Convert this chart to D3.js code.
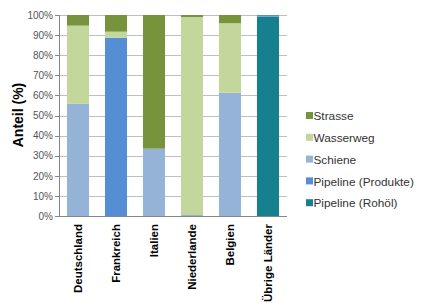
<!DOCTYPE html>
<meta charset="utf-8">
<style>
body { margin: 0; background: #fff; }
text { font-family: "Liberation Sans", Arial, sans-serif; }
.grid line { stroke: #bfbfbf; stroke-width: 1px; shape-rendering: crispEdges; }
.axis path, .axis line { stroke: #868686; shape-rendering: crispEdges; }
.axis text { fill: #555; font-size: 10px; }
.xaxis text { fill: #000; font-size: 11.5px; font-weight: bold; }
</style>
<body>
<script src="https://d3js.org/d3.v7.min.js"></script>
<script>

// data
var laender = ["Deutschland", "Frankreich", "Italien", "Niederlande", "Belgien", "Übrige Länder"];
var serien = ["Pipeline (Rohöl)", "Pipeline (Produkte)", "Schiene", "Wasserweg", "Strasse"];
var rohoel    = [0, 0, 0, 0, 0, 99.2];
var produkte  = [0, 88.7, 0, 0, 0, 0.8];
var schiene   = [55.8, 0, 33.5, 0.5, 61.3, 0];
var wasserweg = [38.9, 3.0, 0, 98.5, 34.6, 0];
var strasse   = [5.3, 8.3, 66.5, 1.0, 4.1, 0];
var farben = ["#16808f", "#558ed5", "#95b3d7", "#c3d69b", "#77933c"];
var yTicks = [0, 10, 20, 30, 40, 50, 60, 70, 80, 90, 100];

var margin = {top: 15, left: 59},
    width = 228, height = 201;

var svg = d3.select("body").append("svg")
    .attr("width", 421)
    .attr("height", 308);

var g = svg.append("g")
    .attr("transform", "translate(" + margin.left + "," + margin.top + ")");

var x = d3.scaleBand().domain(laender).range([0, width]).paddingInner(0.42).paddingOuter(0.21);
var y = d3.scaleLinear().domain([0, 100]).range([height, 0]);
var color = d3.scaleOrdinal().domain(serien).range(farben);

// build table for stack
var werte = [rohoel, produkte, schiene, wasserweg, strasse];
var tabelle = laender.map(function(l, i) {
  var row = {land: l};
  serien.forEach(function(s, j) { row[s] = werte[j][i]; });
  return row;
});
var stack = d3.stack().keys(serien)(tabelle);

// gridlines
g.append("g")
    .attr("class", "grid")
  .selectAll("line")
  .data(yTicks.slice(1))
  .enter().append("line")
    .attr("x1", 0).attr("x2", width)
    .attr("y1", function(d) { return Math.round(y(d)) + 0.5; })
    .attr("y2", function(d) { return Math.round(y(d)) + 0.5; });

// bars
g.selectAll(".serie")
  .data(stack)
  .enter().append("g")
    .attr("class", "serie")
    .attr("fill", function(d) { return color(d.key); })
  .selectAll("rect")
  .data(function(d) { return d; })
  .enter().append("rect")
    .attr("x", function(d) { return x(d.data.land); })
    .attr("width", x.bandwidth())
    .attr("y", function(d) { return y(d[1]); })
    .attr("height", function(d) { return y(d[0]) - y(d[1]); });

// y axis
g.append("g")
    .attr("class", "axis")
    .call(d3.axisLeft(y).tickValues(yTicks).tickFormat(function(d) { return d + "%"; }).tickSize(4).tickPadding(2))
    .call(function(s) { s.select(".domain").attr("d", "M0.5,0V" + height); });

// x axis
var xa = g.append("g")
    .attr("class", "axis xaxis")
    .attr("transform", "translate(0," + height + ")")
    .call(d3.axisBottom(x).tickSize(0).tickPadding(0));
xa.select(".domain").attr("d", "M0," + 0.5 + "H" + width);
xa.selectAll("text")
    .attr("transform", "rotate(-90)")
    .attr("text-anchor", "end")
    .attr("x", -8)
    .attr("y", 0)
    .attr("dy", "0.35em");

// y label
svg.append("text")
    .attr("transform", "translate(23," + 115 + ") rotate(-90)")
    .attr("text-anchor", "middle")
    .style("font-size", "14px")
    .style("font-weight", "bold")
    .text("Anteil (%)");

// legend
var legend = svg.append("g").selectAll("g")
  .data(serien.slice().reverse())
  .enter().append("g")
    .attr("transform", function(d, i) { return "translate(306," + (116 + i * 21.8) + ")"; });

legend.append("rect")
    .attr("x", 0).attr("y", -4)
    .attr("width", 7).attr("height", 7)
    .attr("fill", function(d) { return color(d); });

legend.append("text")
    .attr("x", 7.5)
    .attr("dy", "0.35em")
    .style("font-size", "11.8px")
    .style("fill", "#333")
    .text(function(d) { return d; });

</script>
</body>
